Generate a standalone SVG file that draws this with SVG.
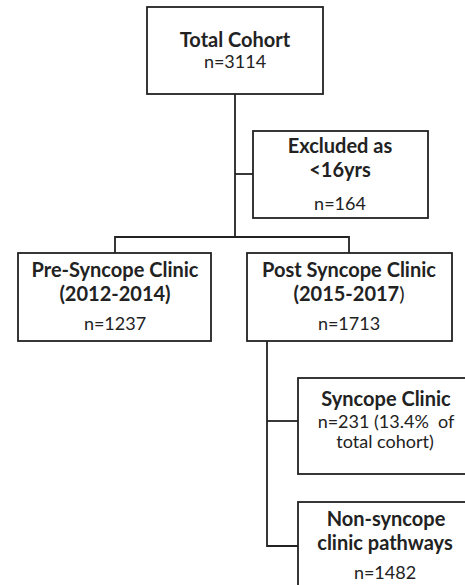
<svg xmlns="http://www.w3.org/2000/svg" width="465" height="585" viewBox="0 0 465 585">
<style>
.box{fill:#fff;stroke:#222;stroke-width:1.8}
.ln{fill:none;stroke:#222;stroke-width:1.8}
text{font-family:Lato,"Liberation Sans",sans-serif;fill:#222;text-anchor:middle}
.b{font-weight:bold;font-size:20px}
.r{font-size:18px}
.pre{white-space:pre}
</style>
<rect width="465" height="585" fill="#fff"/>
<g id="connectors">
<path class="ln" d="M235,94 V237"/>
<path class="ln" d="M235,174 H253"/>
<path class="ln" d="M115,253 V237 H349 V253"/>
<path class="ln" d="M267,341 V546 H298"/>
<path class="ln" d="M267,421 H298"/>
</g>
<g id="total">
<rect class="box" x="147" y="7" width="176" height="87"/>
<text class="b" x="235" y="47">Total Cohort</text>
<text class="r" x="235" y="68">n=3114</text>
</g>
<g id="excluded">
<rect class="box" x="253" y="131" width="175" height="87"/>
<text class="b" x="340" y="153">Excluded as</text>
<text class="b" x="340" y="177">&lt;16yrs</text>
<text class="r" x="340" y="210">n=164</text>
</g>
<g id="pre">
<rect class="box" x="18" y="253" width="193" height="88"/>
<text class="b" x="115" y="277">Pre-Syncope Clinic</text>
<text class="b" x="115" y="301">(2012-2014)</text>
<text class="r" x="115" y="330">n=1237</text>
</g>
<g id="post">
<rect class="box" x="247" y="253" width="205" height="88"/>
<text class="b" x="349" y="277">Post Syncope Clinic</text>
<text class="b" x="349" y="301">(2015-2017<tspan font-weight="normal">)</tspan></text>
<text class="r" x="349" y="330">n=1713</text>
</g>
<g id="syncope">
<rect class="box" x="298" y="378" width="180" height="96"/>
<text class="b" x="386" y="406">Syncope Clinic</text>
<text class="r pre" x="386" y="428">n=231 (13.4%  of</text>
<text class="r" x="385" y="448">total cohort)</text>
</g>
<g id="nonsyncope">
<rect class="box" x="298" y="502" width="180" height="100"/>
<text class="b" x="386" y="526">Non-syncope</text>
<text class="b" x="385" y="550">clinic pathways</text>
<text class="r" x="385" y="579">n=1482</text>
</g>
</svg>
